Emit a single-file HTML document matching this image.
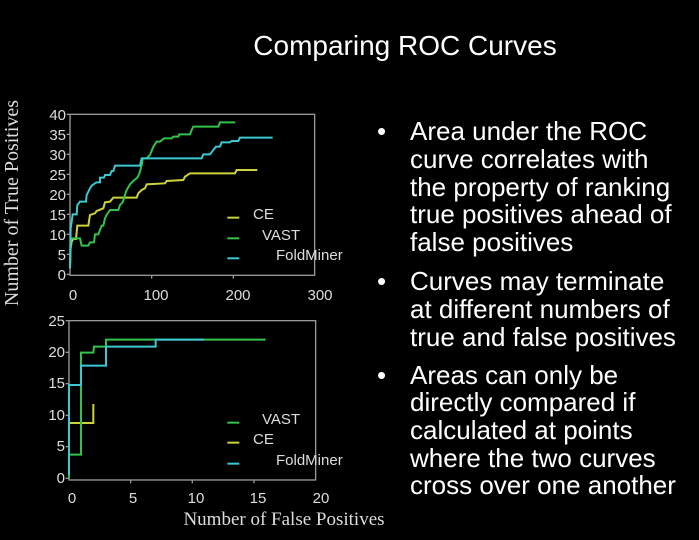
<!DOCTYPE html>
<html><head><meta charset="utf-8"><style>
html,body{margin:0;padding:0;background:#000;}
svg{display:block}
</style></head><body>
<svg width="699" height="540" viewBox="0 0 699 540" xmlns="http://www.w3.org/2000/svg">
<rect width="699" height="540" fill="#000"/>
<text x="405" y="55" fill="#fff" font-family="Liberation Sans, sans-serif" font-size="28" text-anchor="middle">Comparing ROC Curves</text>

<g font-family="Liberation Sans, sans-serif" font-size="26" fill="#fff">
<text x="377" y="140">•</text>
<text x="410" y="140">Area under the ROC</text>
<text x="410" y="168">curve correlates with</text>
<text x="410" y="196">the property of ranking</text>
<text x="410" y="223">true positives ahead of</text>
<text x="410" y="251">false positives</text>
<text x="377" y="290">•</text>
<text x="410" y="290">Curves may terminate</text>
<text x="410" y="318">at different numbers of</text>
<text x="410" y="346">true and false positives</text>
<text x="377" y="384">•</text>
<text x="410" y="384">Areas can only be</text>
<text x="410" y="411">directly compared if</text>
<text x="410" y="439">calculated at points</text>
<text x="410" y="467">where the two curves</text>
<text x="410" y="494">cross over one another</text>
</g>

<text transform="translate(18,203) rotate(-90)" fill="#ddd" font-family="Liberation Serif, serif" font-size="20" text-anchor="middle">Number of True Positives</text>
<text x="284" y="525" fill="#ddd" font-family="Liberation Serif, serif" font-size="19" text-anchor="middle">Number of False Positives</text>

<!-- top chart -->
<g transform="translate(0,95) scale(0.3333)" fill="none" stroke-width="6">
<rect x="210" y="58" width="734" height="483" stroke="#999" stroke-width="4"/>
<g stroke="#999" stroke-width="4">
<line x1="200" y1="58" x2="210" y2="58"/><line x1="200" y1="118" x2="210" y2="118"/><line x1="200" y1="178" x2="210" y2="178"/><line x1="200" y1="238" x2="210" y2="238"/><line x1="200" y1="298" x2="210" y2="298"/><line x1="200" y1="358" x2="210" y2="358"/><line x1="200" y1="418" x2="210" y2="418"/><line x1="200" y1="478" x2="210" y2="478"/><line x1="200" y1="538" x2="210" y2="538"/>
<line x1="455" y1="541" x2="455" y2="551"/><line x1="700" y1="541" x2="700" y2="551"/>
</g>
<polyline stroke="#ccd23a" points="210,520 212,460 215,440 220,432 228,432 232,392 265,392 270,360 285,355 290,348 310,340 315,322 330,320 340,308 410,308 415,295 425,285 435,280 440,268 495,265 500,258 550,255 555,245 570,235 705,235 710,225 772,225"/>
<polyline stroke="#33c24a" points="210,520 212,430 240,430 245,452 265,452 270,442 282,442 285,418 295,418 300,405 305,392 310,392 315,370 320,360 330,345 355,345 360,330 368,322 372,310 378,290 383,280 390,268 400,258 412,248 418,236 422,222 426,206 428,190 440,190 450,180 458,160 462,152 470,140 480,140 492,130 515,130 520,125 535,125 538,118 570,118 575,105 580,95 655,95 660,82 706,82"/>
<polyline stroke="#3cc8d0" points="210,520 212,400 215,380 218,358 230,358 232,330 240,320 258,320 260,300 265,290 270,280 275,272 285,265 290,262 300,262 300,248 312,248 315,240 330,240 335,228 340,228 345,212 420,212 425,190 605,190 610,178 630,178 648,155 660,155 665,142 690,142 695,138 715,138 720,128 818,128"/>
<line x1="682" y1="368" x2="718" y2="368" stroke="#ccd23a"/>
<line x1="682" y1="430" x2="718" y2="430" stroke="#33c24a"/>
<line x1="682" y1="490" x2="718" y2="490" stroke="#3cc8d0"/>
</g>
<g font-family="Liberation Sans, sans-serif" font-size="15" fill="#ddd" text-anchor="end">
<text x="66" y="120">40</text><text x="66" y="140">35</text><text x="66" y="160">30</text><text x="66" y="180">25</text><text x="66" y="200">20</text><text x="66" y="220">15</text><text x="66" y="240">10</text><text x="66" y="260">5</text><text x="66" y="280">0</text>
</g>
<g font-family="Liberation Sans, sans-serif" font-size="15" fill="#ddd" text-anchor="middle">
<text x="73" y="300">0</text><text x="156" y="300">100</text><text x="238" y="300">200</text><text x="320" y="300">300</text>
<text x="253" y="219" text-anchor="start">CE</text>
<text x="262" y="240" text-anchor="start">VAST</text>
<text x="276" y="260" text-anchor="start">FoldMiner</text>
</g>

<!-- bottom chart -->
<g transform="translate(0,305) scale(0.3333)" fill="none" stroke-width="6">
<rect x="207" y="47" width="740" height="478" stroke="#999" stroke-width="4"/>
<g stroke="#999" stroke-width="4">
<line x1="197" y1="47" x2="207" y2="47"/><line x1="197" y1="142" x2="207" y2="142"/><line x1="197" y1="236" x2="207" y2="236"/><line x1="197" y1="331" x2="207" y2="331"/><line x1="197" y1="425" x2="207" y2="425"/><line x1="197" y1="520" x2="207" y2="520"/>
<line x1="392" y1="525" x2="392" y2="535"/><line x1="577" y1="525" x2="577" y2="535"/><line x1="762" y1="525" x2="762" y2="535"/>
</g>
<polyline stroke="#ccd23a" points="207,354 280,354 280,297"/>
<polyline stroke="#33c24a" points="207,520 207,449 243,449 243,143 280,143 282,125 318,125 318,104 797,104"/>
<polyline stroke="#3cc8d0" points="207,510 207,240 243,240 243,182 318,182 318,125 467,125 467,104 612,104"/>
<line x1="682" y1="353" x2="718" y2="353" stroke="#33c24a"/>
<line x1="682" y1="413" x2="718" y2="413" stroke="#ccd23a"/>
<line x1="682" y1="476" x2="718" y2="476" stroke="#3cc8d0"/>
</g>
<g font-family="Liberation Sans, sans-serif" font-size="15" fill="#ddd" text-anchor="end">
<text x="65" y="326">25</text><text x="65" y="357">20</text><text x="65" y="388">15</text><text x="65" y="420">10</text><text x="65" y="451">5</text><text x="65" y="483">0</text>
</g>
<g font-family="Liberation Sans, sans-serif" font-size="15" fill="#ddd" text-anchor="middle">
<text x="72" y="503">0</text><text x="133" y="503">5</text><text x="196" y="503">10</text><text x="258" y="503">15</text><text x="321" y="503">20</text>
<text x="262" y="424" text-anchor="start">VAST</text>
<text x="253" y="444" text-anchor="start">CE</text>
<text x="276" y="465" text-anchor="start">FoldMiner</text>
</g>
</svg>
</body></html>
